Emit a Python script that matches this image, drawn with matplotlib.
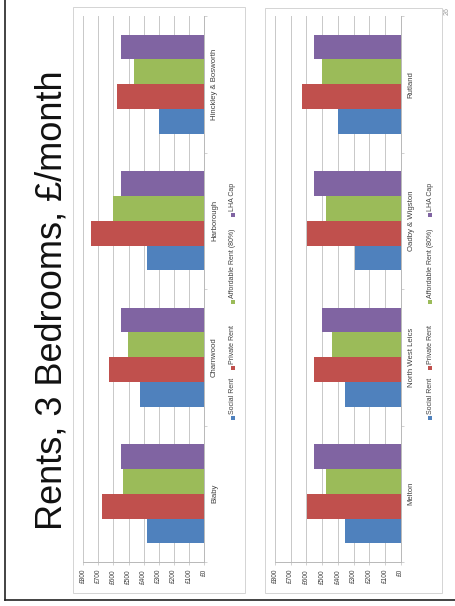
import matplotlib
matplotlib.use("Agg")
import matplotlib.pyplot as plt
from matplotlib.patches import Rectangle
from matplotlib.lines import Line2D

plt.rcParams['font.family'] = ['Liberation Sans', 'DejaVu Sans']

# ---- data (£ per month, 3-bedroom homes) ----
series_names = ["Social Rent", "Private Rent", "Affordable Rent (80%)", "LHA Cap"]
series_colors = ["#4F81BD", "#C0504D", "#9BBB59", "#8064A2"]

districts_left = ["Blaby", "Charnwood", "Harborough", "Hinckley & Bosworth"]
social_left = [380, 424, 376, 301]
private_left = [674, 628, 752, 575]
affordable_left = [535, 502, 601, 462]
lha_left = [552, 552, 552, 552]

districts_right = ["Melton", "North West Leics", "Oadby & Wigston", "Rutland"]
social_right = [354, 354, 291, 397]
private_right = [599, 550, 599, 626]
affordable_right = [478, 440, 478, 499]
lha_right = [550, 499, 550, 550]

value_ticks = [0, 100, 200, 300, 400, 500, 600, 700, 800]
value_labels = ["£0", "£100", "£200", "£300", "£400", "£500", "£600", "£700", "£800"]

title = "Rents, 3 Bedrooms, £/month"

W, H = 455, 606
fig = plt.figure(figsize=(W / 100, H / 100), dpi=100)
fig.patch.set_facecolor("white")


def fx(x):
    return x / W


def fy(y):
    return 1 - y / H


def add_panel(left, right, top, bottom, box, names, values, legend_x):
    ax = fig.add_axes([fx(left), fy(bottom), fx(right - left), (bottom - top) / H])
    n = len(series_names)
    bar_h = 1 / 5.5
    for i, (vals, col) in enumerate(zip(values, series_colors)):
        offs = (i - (n - 1) / 2) * bar_h
        ax.barh([k + offs for k in range(len(names))], vals, height=bar_h,
                color=col, edgecolor="none", zorder=3)
    ax.set_xlim(800, 0)
    ax.set_ylim(-0.5, len(names) - 0.5)
    ax.set_xticks(value_ticks)
    ax.set_xticklabels(value_labels, rotation=90, fontsize=4.8, color="#404040")
    ax.tick_params(axis="x", length=2, width=0.5, color="#bfbfbf", pad=3)
    ax.yaxis.tick_right()
    ax.set_yticks(range(len(names)))
    ax.set_yticklabels(names, rotation=90, va="center", fontsize=5.6, color="#404040")
    ax.set_yticks([k - 0.5 for k in range(len(names) + 1)], minor=True)
    ax.tick_params(axis="y", which="major", length=0, pad=5)
    ax.tick_params(axis="y", which="minor", length=2.5, width=0.5, color="#bfbfbf")
    ax.grid(axis="x", color="#c8c8c8", lw=0.7, zorder=0)
    ax.set_axisbelow(True)
    for s in ("top", "left"):
        ax.spines[s].set_visible(False)
    for s in ("right", "bottom"):
        ax.spines[s].set_color("#b8b8b8")
        ax.spines[s].set_linewidth(0.7)
    ax.patch.set_alpha(0)

    # chart frame
    bx0, by0, bx1, by1 = box
    fig.add_artist(Rectangle((fx(bx0), fy(by1)), fx(bx1 - bx0), (by1 - by0) / H,
                             transform=fig.transFigure, facecolor="none",
                             edgecolor="#d4d4d4", lw=0.7, zorder=0))

    # legend, reading bottom to top
    marker_y = [418, 368, 302, 215]
    for name, col, my in zip(series_names, series_colors, marker_y):
        fig.add_artist(Rectangle((fx(legend_x - 2), fy(my + 2)), fx(4), 4 / H,
                                 transform=fig.transFigure, facecolor=col,
                                 edgecolor="none"))
        fig.text(fx(legend_x), fy(my - 4), name, rotation=90, ha="center",
                 va="bottom", fontsize=5.0, color="#404040")
    return ax


add_panel(83.3, 204, 16, 562, (73, 7, 245, 593), districts_left,
          [social_left, private_left, affordable_left, lha_left], 233)
add_panel(275, 400.7, 16, 562, (265, 8, 442, 593), districts_right,
          [social_right, private_right, affordable_right, lha_right], 430)

# title
fig.text(fx(52), fy(300), title, rotation=90, ha="center", va="center",
         fontsize=26, color="#111111")

# page number
fig.text(fx(447), fy(11), "26", rotation=90, ha="center", va="center",
         fontsize=5, color="#9a9a9a")

# page border
fig.add_artist(Line2D([fx(4.5), fx(4.5)], [fy(0), fy(600)], transform=fig.transFigure,
                      color="#222222", lw=1.2))
fig.add_artist(Line2D([fx(4.5), fx(455)], [fy(600), fy(600)], transform=fig.transFigure,
                      color="#222222", lw=1.2))

fig.savefig("out.png", dpi=100, facecolor="white")
